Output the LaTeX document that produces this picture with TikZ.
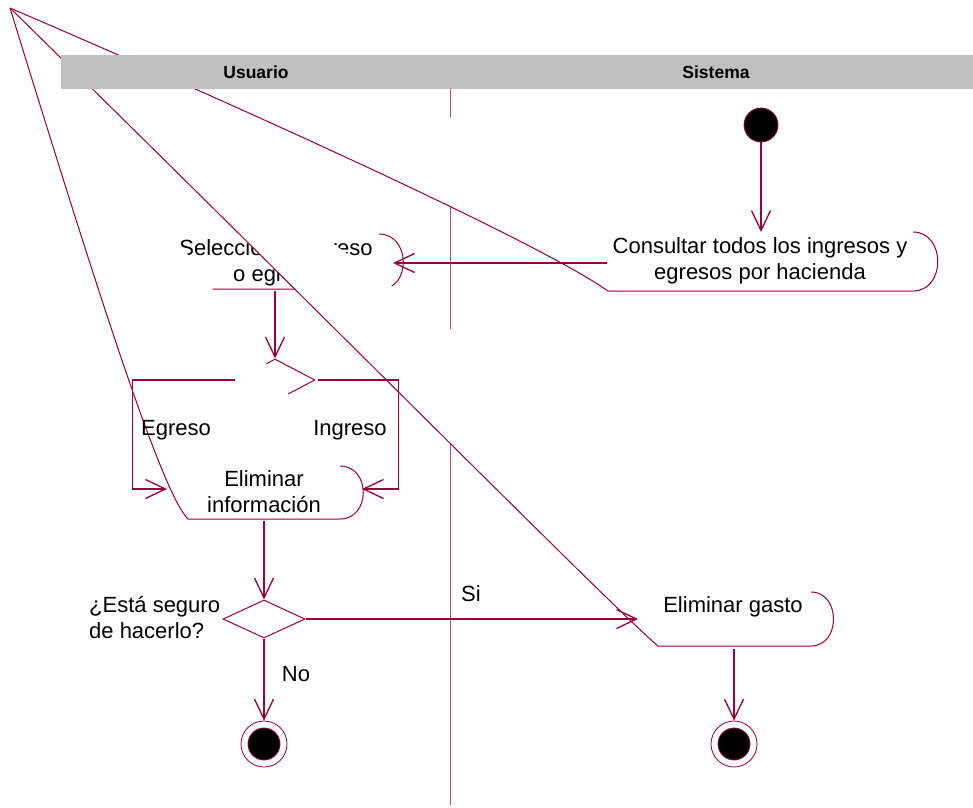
\documentclass[tikz,border=0pt]{standalone}
\usepackage{fontspec}
\setmainfont{Liberation Sans}
\usetikzlibrary{arrows.meta,shapes.geometric}
\definecolor{rose}{HTML}{990033}
\definecolor{lanegray}{HTML}{C0C0C0}

\begin{document}
\begin{tikzpicture}[x=1pt,y=-1pt,
  txt/.style={font=\fontsize{22}{26}\selectfont,align=center,inner sep=0pt},
  head/.style={font=\fontsize{17.5}{20}\selectfont\bfseries,inner sep=0pt},
  outl/.style={draw=rose,line width=1pt},
  lane/.style={draw=rose!70,line width=1pt},
  arr/.style={-{Straight Barb[length=20pt,width=19pt]},draw=rose,line width=1.3pt},
  start/.style={circle,fill=black,draw=rose,line width=0.8pt,minimum size=34pt,inner sep=0pt},
  final/.style={circle,draw=rose,line width=0.8pt,minimum size=46pt,inner sep=0pt,
    path picture={\filldraw[fill=black,draw=rose,line width=0.8pt] (path picture bounding box.center) circle (16pt);}},
  branch/.style={diamond,draw=rose,line width=1pt,inner sep=0pt}]
\useasboundingbox (0,0) rectangle (973,807);
\coordinate (o) at (10,8);
% swimlane divider
\draw[lane] (450,89) -- (450,805);
% seleccionar (partly covered later)
\node[txt] (seleccion) at (276,263) {Seleccionar ingreso\\o egreso};
\draw[outl] (175,289) -- (381,289) .. controls (411,289) and (411,234) .. (379,234);
\node[branch,minimum width=80pt,minimum height=42pt] (rama) at (275,380) {};
% consultar
\fill[white] (o) .. controls (250,111) and (540,243) .. (608,291) -- (913,291)
  .. controls (946,291) and (946,232) .. (913,232) -- cycle;
\draw[outl] (o) .. controls (250,111) and (540,243) .. (608,291) -- (913,291)
  .. controls (946,291) and (946,232) .. (913,232);
\node[txt] (consultar) at (760,261) {Consultar todos los ingresos y\\egresos por hacienda};
% eliminar informacion
\fill[white] (o) .. controls (100,300) and (162,493) .. (188,519) -- (340,519)
  .. controls (371,519) and (371,466) .. (340,466) -- cycle;
\draw[outl] (o) .. controls (100,300) and (162,493) .. (188,519) -- (340,519)
  .. controls (371,519) and (371,466) .. (340,466);
\node[txt] (elimInfo) at (264,492) {Eliminar\\información};
% eliminar gasto
\fill[white] (o) .. controls (300,292) and (615,610) .. (658,646) -- (811,646)
  .. controls (841,646) and (841,592) .. (811,592) -- cycle;
\draw[outl] (o) .. controls (300,292) and (615,610) .. (658,646) -- (811,646)
  .. controls (841,646) and (841,592) .. (811,592);
\node[txt] (elimGasto) at (733,607) {Eliminar gasto};
% lane headers
\fill[lanegray] (61,55) rectangle (973,89);
\node[head] (usuario) at (256,72) {Usuario};
\node[head] (sistema) at (716,72) {Sistema};
% states
\node[start] (ini) at (761,125) {};
\node[branch,minimum width=82pt,minimum height=38pt] (decision) at (264,619) {};
\node[final] (finA) at (264,744) {};
\node[final] (finB) at (734,744) {};
\coordinate (consultar-n) at (761,232);
\coordinate (consultar-w) at (607,263);
\coordinate (seleccion-e) at (393,263);
\coordinate (seleccion-s) at (275,291);
\coordinate (elimInfo-w) at (167,489);
\coordinate (elimInfo-e) at (362,489);
\coordinate (elimInfo-s) at (264,521);
\coordinate (elimGasto-w) at (638,619);
\coordinate (elimGasto-s) at (734,649);
% transitions
\draw[arr] (ini) -- (consultar-n);
\draw[arr] (consultar-w) -- (seleccion-e);
\draw[arr] (seleccion-s) -- (rama.north);
\draw[arr] (rama.west) -- ++(-102,0) |- (elimInfo-w);
\draw[arr] ([xshift=2pt]rama.east) -- ++(81,0) |- (elimInfo-e);
\draw[arr] (elimInfo-s) -- (decision.north);
\draw[arr] (decision.east) -- (elimGasto-w);
\draw[arr] (decision.south) -- (finA.north);
\draw[arr] (elimGasto-s) -- (finB.north);
% labels
\node[txt] (egreso) at (176,430) {Egreso};
\node[txt] (ingreso) at (350,430) {Ingreso};
\node[txt,align=left,anchor=west] (pregunta) at (89,617) {¿Está seguro\\de hacerlo?};
\node[txt] (si) at (471,594) {Si};
\node[txt] (no) at (296,674) {No};
\end{tikzpicture}
\end{document}
